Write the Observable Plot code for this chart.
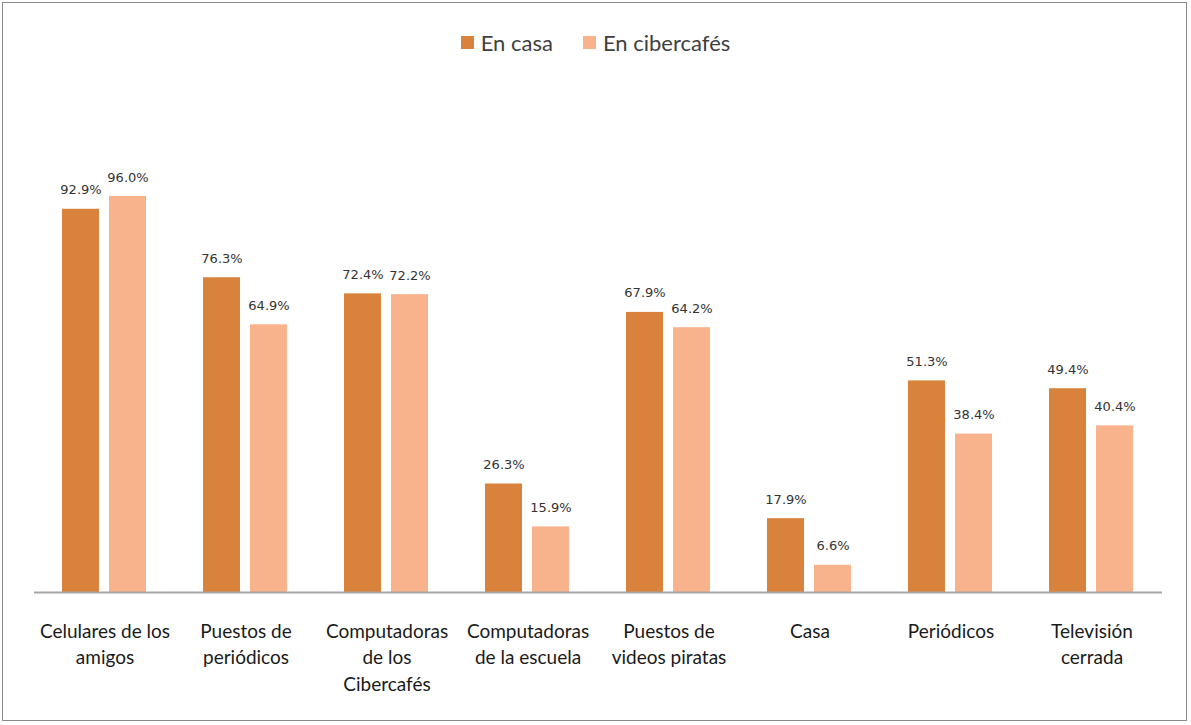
<!DOCTYPE html>
<html><head><meta charset="utf-8">
<script src="https://cdn.jsdelivr.net/npm/d3@7"></script>
<script src="https://cdn.jsdelivr.net/npm/@observablehq/plot@0.6"></script>
<style>
body{margin:0;background:#fff;}
#wrap{position:relative;width:1191px;height:725px;overflow:hidden;background:#fff;}
#border{position:absolute;left:2px;top:2px;width:1183px;height:717px;border:1px solid #8a8a8a;}
#legend{position:absolute;top:29px;left:0;width:1191px;display:flex;justify-content:center;gap:30px;font-family:Lato,"Open Sans",sans-serif;font-size:22px;color:#404040;}
#legend span.item{display:flex;align-items:center;gap:7px;}
#legend span.sw{display:inline-block;width:13px;height:13px;}
#chart{position:absolute;left:0;top:0;}
</style></head>
<body>
<div id="wrap"><div id="border"></div><div id="chart"></div><div id="legend"></div></div>
<script>
const categories = ["Celulares de los amigos","Puestos de periódicos","Computadoras de los Cibercafés","Computadoras de la escuela","Puestos de videos piratas","Casa","Periódicos","Televisión cerrada"];
const tickLabels = ["Celulares de los\namigos","Puestos de\nperiódicos","Computadoras\nde los\nCibercafés","Computadoras\nde la escuela","Puestos de\nvideos piratas","Casa","Periódicos","Televisión\ncerrada"];
const seriesNames = ["En casa","En cibercafés"];
const enCasa = [92.9, 76.3, 72.4, 26.3, 67.9, 17.9, 51.3, 49.4];
const enCibercafes = [96.0, 64.9, 72.2, 15.9, 64.2, 6.6, 38.4, 40.4];
const colors = ["#D9823B","#F8B28C"];

const data = [];
categories.forEach((c,i)=>{
  data.push({cat:c, series:seriesNames[0], value:enCasa[i]});
  data.push({cat:c, series:seriesNames[1], value:enCibercafes[i]});
});
const labelOf = new Map(categories.map((c,i)=>[c,tickLabels[i]]));

const chart = Plot.plot({
  width:1191, height:725,
  marginLeft:31, marginRight:27, marginTop:179.5, marginBottom:133,
  style:{background:"transparent"},
  fx:{domain:categories, padding:0, label:null},
  x:{domain:seriesNames, axis:null, paddingInner:0.21, paddingOuter:0.6},
  y:{domain:[0,100], axis:null},
  color:{domain:seriesNames, range:colors},
  marks:[
    Plot.barY(data,{fx:"cat", x:"series", y:"value", fill:"series"}),
    Plot.ruleY([0],{stroke:"#a6a6a6", strokeWidth:2}),
    Plot.text(data,{fx:"cat", x:"series", y:"value", text:d=>d.value.toFixed(1)+"%", dy:-15, lineAnchor:"bottom", fontSize:13, fill:"#333333", fontFamily:"DejaVu Sans"}),
    Plot.axisFx({anchor:"bottom", tickSize:0, tickPadding:27, tickFormat:d=>labelOf.get(d), fontSize:19, lineHeight:1.38, fill:"#1a1a1a", fontFamily:"Lato", label:null})
  ]
});
document.getElementById("chart").appendChild(chart);

const leg = document.getElementById("legend");
seriesNames.forEach((s,i)=>{
  const it = document.createElement("span"); it.className="item";
  const sw = document.createElement("span"); sw.className="sw"; sw.style.background=colors[i];
  const t = document.createElement("span"); t.textContent=s;
  it.appendChild(sw); it.appendChild(t); leg.appendChild(it);
});
</script>
</body></html>
